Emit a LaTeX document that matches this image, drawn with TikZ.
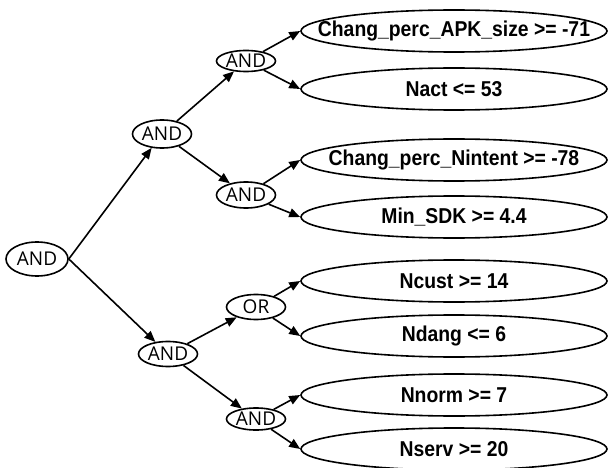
\documentclass[tikz,border=0pt]{standalone}
\usepackage{fontspec}
\usetikzlibrary{shapes.geometric,arrows.meta}
\newfontfamily\leaffont{Liberation Sans}[FakeStretch=0.9]
\newfontfamily\gatefont{Open Sans}
\newcommand{\lt}[1]{\makebox[0pt]{#1}}
\begin{document}
\begin{tikzpicture}[x=1pt,y=-1pt, line width=1.6pt,
  gate/.style={ellipse, draw, inner sep=0pt, minimum width=59pt,
    font=\gatefont\fontsize{19}{19}\selectfont},
  leaf/.style={ellipse, draw, inner sep=0pt, minimum width=306pt, minimum height=42pt,
    font=\leaffont\bfseries\fontsize{21.5}{21.5}\selectfont},
  edge/.style={-{Triangle[length=11pt,width=9pt]}}]
\useasboundingbox (0,0) rectangle (608,468);
% gates
\node[gate, minimum width=62pt, minimum height=34pt] (root) at (37,259) {AND};
\node[gate, minimum height=28pt] (g1) at (162,134) {AND};
\node[gate, minimum height=25pt] (g2) at (168,354) {AND};
\node[gate, minimum height=21pt] (g11) at (246,61) {AND};
\node[gate, minimum height=26pt] (g12) at (246,195) {AND};
\node[gate, minimum height=25pt] (g21) at (256,307) {OR};
\node[gate, minimum height=22pt] (g22) at (256,419) {AND};
% leaves
\node[leaf] (l1) at (454,31) {\lt{Chang\_perc\_APK\_size >= -71}};
\node[leaf] (l2) at (454,89) {\lt{Nact <= 53}};
\node[leaf] (l3) at (454,160) {\lt{Chang\_perc\_Nintent >= -78}};
\node[leaf] (l4) at (454,217) {\lt{Min\_SDK >= 4.4}};
\node[leaf] (l5) at (454,281) {\lt{Ncust >= 14}};
\node[leaf] (l6) at (454,336) {\lt{Ndang <= 6}};
\node[leaf] (l7) at (454,395) {\lt{Nnorm >= 7}};
\node[leaf] (l8) at (454,449) {\lt{Nserv >= 20}};
% edges
\draw[edge] (root.east) -- (g1);
\draw[edge] (root.east) -- (g2);
\draw[edge] (g1) -- (g11);
\draw[edge] (g1) -- (g12);
\draw[edge] (g2) -- (g21);
\draw[edge] (g2) -- (g22);
\draw[edge] (g11) -- (l1.west);
\draw[edge] (g11) -- (l2.west);
\draw[edge] (g12) -- (l3.west);
\draw[edge] (g12) -- (l4.west);
\draw[edge] (g21) -- (l5.west);
\draw[edge] (g21) -- (l6.west);
\draw[edge] (g22) -- (l7.west);
\draw[edge] (g22) -- (l8.west);
\end{tikzpicture}
\end{document}
